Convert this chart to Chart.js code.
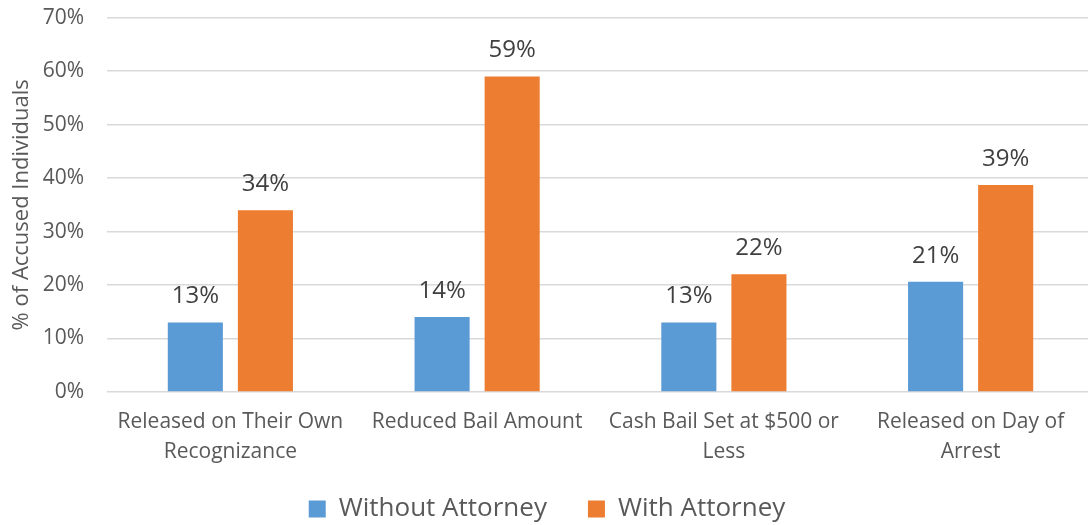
<!DOCTYPE html>
<html>
<head>
<meta charset="utf-8">
<script src="https://cdn.jsdelivr.net/npm/chart.js@4"></script>
<style>
  html, body { margin: 0; padding: 0; background: #fff; overflow: hidden; }
  #wrap { width: 1088px; height: 525px; overflow: hidden; }
  #barChart { display: block; margin-top: -18px; }
</style>
</head>
<body>
<div id="wrap"><canvas id="barChart" width="1094" height="550"></canvas></div>
<script>
const categories = [
  ["Released on Their Own", "Recognizance"],
  ["Reduced Bail Amount"],
  ["Cash Bail Set at $500 or", "Less"],
  ["Released on Day of", "Arrest"],
];
const withoutAttorney = [13, 14, 13, 20.6];
const withAttorney = [34, 59, 22, 38.7];
const yTicks = [0, 10, 20, 30, 40, 50, 60, 70];

const FONT = "'Open Sans', 'Noto Sans', sans-serif";

// simple value labels above each bar
const barLabels = {
  id: "barLabels",
  afterDatasetsDraw(chart) {
    const ctx = chart.ctx;
    ctx.save();
    ctx.font = "24px " + FONT;
    ctx.fillStyle = "#404040";
    ctx.textAlign = "center";
    ctx.textBaseline = "alphabetic";
    chart.data.datasets.forEach((ds, i) => {
      chart.getDatasetMeta(i).data.forEach((bar, j) => {
        ctx.fillText(Math.round(ds.data[j]) + "%", bar.x, bar.y - 19);
      });
    });
    ctx.restore();
  },
};

const configBar = {
  type: "bar",
  data: {
    labels: categories,
    datasets: [
      {
        label: "Without Attorney",
        backgroundColor: "#5B9BD5",
        data: withoutAttorney,
      },
      {
        label: "With Attorney",
        backgroundColor: "#ED7D31",
        data: withAttorney,
      },
    ],
  },
  plugins: [barLabels],
  options: {
    responsive: false,
    animation: false,
    categoryPercentage: 0.568,
    barPercentage: 0.786,
    layout: { padding: { top: 1, right: 0, left: 0, bottom: 0 } },
    scales: {
      x: {
        grid: { display: false },
        border: { display: false },
        afterFit(axis) {
          axis.height = 76;
        },
        ticks: {
          color: "#595959",
          padding: 7,
          font: { family: FONT, size: 21, lineHeight: 1.43 },
        },
      },
      y: {
        min: 0,
        max: 70,
        afterBuildTicks(axis) {
          axis.ticks = yTicks.map((v) => ({ value: v }));
        },
        afterFit(axis) {
          axis.width = 107;
        },
        grid: { color: "#d9d9d9", lineWidth: 1.5, drawTicks: false },
        border: { display: false },
        ticks: {
          color: "#595959",
          padding: 23,
          font: { family: FONT, size: 21 },
          callback: (v) => v + "%",
        },
        title: {
          display: true,
          text: "% of Accused Individuals",
          color: "#595959",
          font: { family: FONT, size: 22 },
          padding: { top: 9, bottom: 0 },
        },
      },
    },
    plugins: {
      legend: {
        position: "bottom",
        labels: {
          color: "#595959",
          boxWidth: 17,
          boxHeight: 17,
          padding: 28,
          font: { family: FONT, size: 26 },
          generateLabels(chart) {
            const items = Chart.defaults.plugins.legend.labels.generateLabels(chart);
            // a bit more room between the two entries
            items[0].text += "\u2002";
            return items;
          },
        },
      },
      tooltip: { enabled: false },
    },
  },
};

var myBarChart = new Chart(document.getElementById("barChart"), configBar);
</script>
</body>
</html>
